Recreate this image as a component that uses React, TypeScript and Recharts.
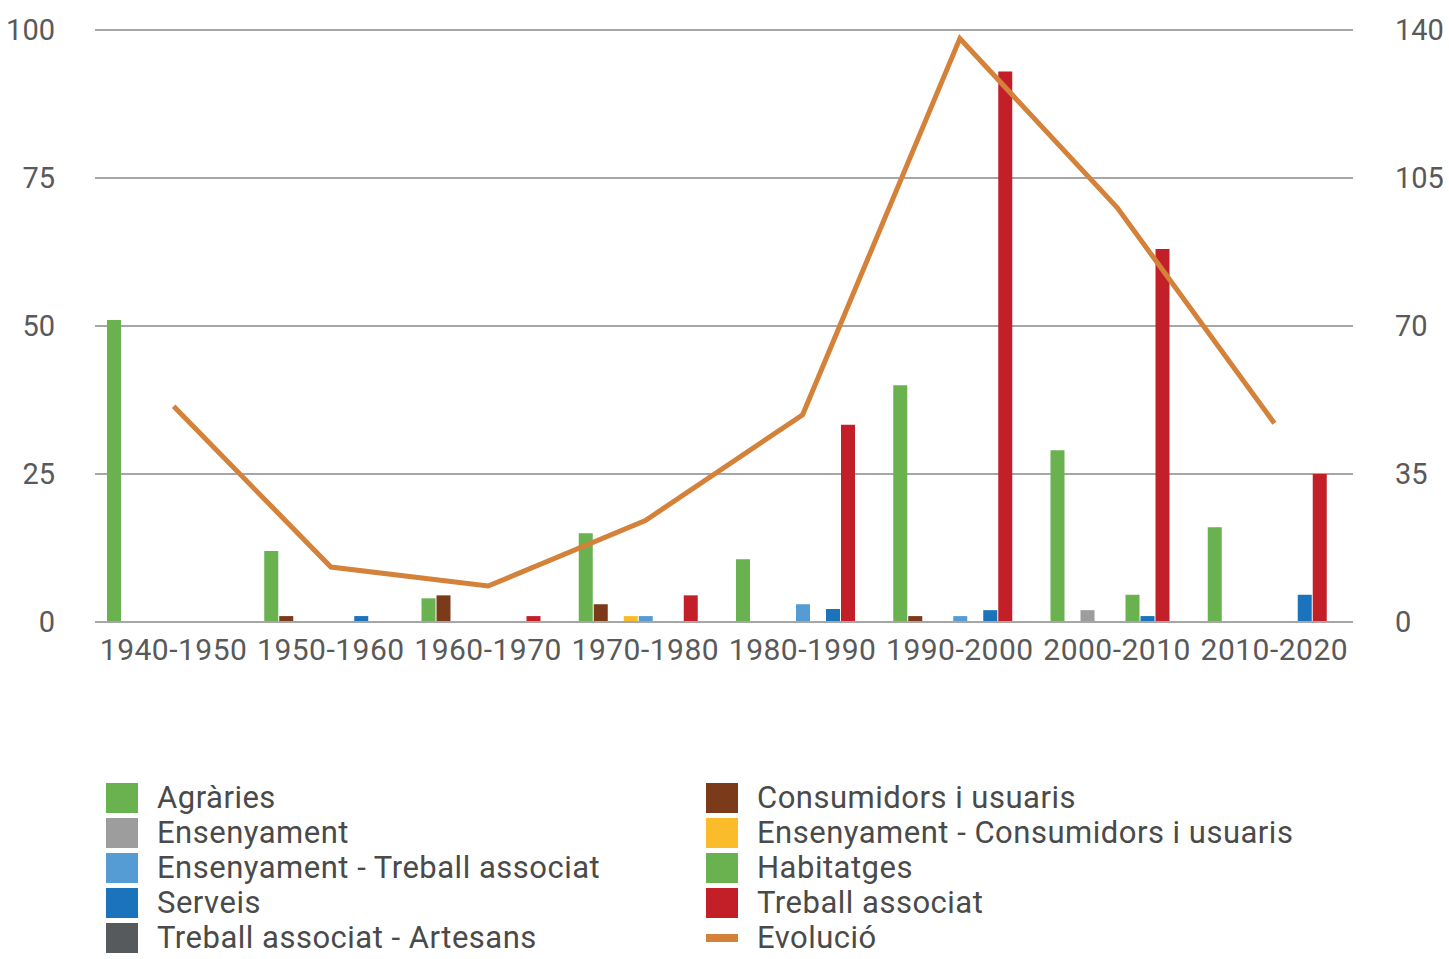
import { Bar, CartesianGrid, ComposedChart, Line, XAxis, YAxis } from "recharts";

const decades = ["1940-1950", "1950-1960", "1960-1970", "1970-1980", "1980-1990", "1990-2000", "2000-2010", "2010-2020"];

const agraries = [51, 12, 4, 15, 10.6, 40, 29, 16];
const consumidors = [0, 1, 4.5, 3, 0, 1, 0, 0];
const ensenyament = [0, 0, 0, 0, 0, 0, 2, 0];
const ensConsumidors = [0, 0, 0, 1, 0, 0, 0, 0];
const ensTreball = [0, 0, 0, 1, 3, 1, 0, 0];
const habitatges = [0, 0, 0, 0, 0, 0, 4.6, 0];
const serveis = [0, 1, 0, 0, 2.2, 2, 1, 4.6];
const treball = [0, 0, 1, 4.5, 33.3, 93, 63, 25];
const artesans = [0, 0, 0, 0, 0, 0, 0, 0];
const evolucio = [51, 13, 8.5, 24, 49, 138, 98, 47];

const leftTicks = [0, 25, 50, 75, 100];
const rightTicks = [0, 35, 70, 105, 140];

const series = [
  { key: "agr", name: "Agràries", color: "#6ab150", values: agraries },
  { key: "cons", name: "Consumidors i usuaris", color: "#7b3a19", values: consumidors },
  { key: "ens", name: "Ensenyament", color: "#9d9d9d", values: ensenyament },
  { key: "ensCons", name: "Ensenyament - Consumidors i usuaris", color: "#fbbc2b", values: ensConsumidors },
  { key: "ensTreb", name: "Ensenyament - Treball associat", color: "#559bd4", values: ensTreball },
  { key: "hab", name: "Habitatges", color: "#6ab150", values: habitatges },
  { key: "serv", name: "Serveis", color: "#1a73bb", values: serveis },
  { key: "treb", name: "Treball associat", color: "#c21f28", values: treball },
  { key: "art", name: "Treball associat - Artesans", color: "#575a5c", values: artesans },
];

const lineColor = "#d4813a";

const data = decades.map((d, i) => {
  const row: Record<string, string | number> = { decade: d, evo: evolucio[i] };
  series.forEach((s) => (row[s.key] = s.values[i]));
  return row;
});

const legendItems = [
  ...series.map((s) => ({ name: s.name, color: s.color, line: false })),
  { name: "Evolució", color: lineColor, line: true },
];

const font = "Roboto, 'DejaVu Sans', sans-serif";
const tickStyle = { fill: "#595959", fontSize: 29, fontFamily: font };

const App = () => {
  return (
    <div style={{ position: "absolute", left: 0, top: 0, width: 1449, height: 959, background: "#fff", overflow: "hidden" }}>
      <ComposedChart
        width={1449}
        height={959}
        data={data}
        margin={{ top: 30, right: 0, left: 0, bottom: 297 }}
        barSize={14}
        barGap={1}
      >
        <CartesianGrid vertical={false} stroke="#a6a6a6" strokeWidth={2} yAxisId="left" />
        <XAxis
          dataKey="decade"
          height={40}
          tickLine={false}
          axisLine={{ stroke: "#a6a6a6", strokeWidth: 2 }}
          tickSize={0}
          tickMargin={17}
          tick={{ ...tickStyle, fontSize: 30, letterSpacing: 0.5 }}
          interval={0}
        />
        <YAxis
          yAxisId="left"
          width={95}
          domain={[0, 100]}
          ticks={leftTicks}
          axisLine={false}
          tickLine={false}
          tickSize={0}
          tickMargin={40}
          tick={tickStyle}
        />
        <YAxis
          yAxisId="right"
          orientation="right"
          width={96}
          domain={[0, 140]}
          ticks={rightTicks}
          axisLine={false}
          tickLine={false}
          tickSize={0}
          tickMargin={42}
          tick={{ ...tickStyle, textAnchor: "start" }}
        />
        {series.map((s) => (
          <Bar key={s.key} yAxisId="left" dataKey={s.key} name={s.name} fill={s.color} isAnimationActive={false} />
        ))}
        <Line
          yAxisId="right"
          dataKey="evo"
          name="Evolució"
          type="linear"
          stroke={lineColor}
          strokeWidth={5}
          dot={false}
          activeDot={false}
          isAnimationActive={false}
        />
      </ComposedChart>
      {legendItems.map((item, i) => {
        const col = i % 2;
        const row = Math.floor(i / 2);
        const left = col === 0 ? 106 : 706;
        const cy = 798 + row * 35;
        return (
          <div key={item.name} style={{ position: "absolute", left, top: cy - 15, height: 30, display: "flex", alignItems: "center" }}>
            <div
              style={{
                width: 32,
                height: item.line ? 8 : 30,
                background: item.color,
                marginRight: 19,
              }}
            />
            <span
              style={{
                fontFamily: font,
                fontSize: 31,
                lineHeight: "28px",
                letterSpacing: 0.5,
                color: "#4a4a4a",
                whiteSpace: "nowrap",
              }}
            >
              {item.name}
            </span>
          </div>
        );
      })}
    </div>
  );
};

export default App;
